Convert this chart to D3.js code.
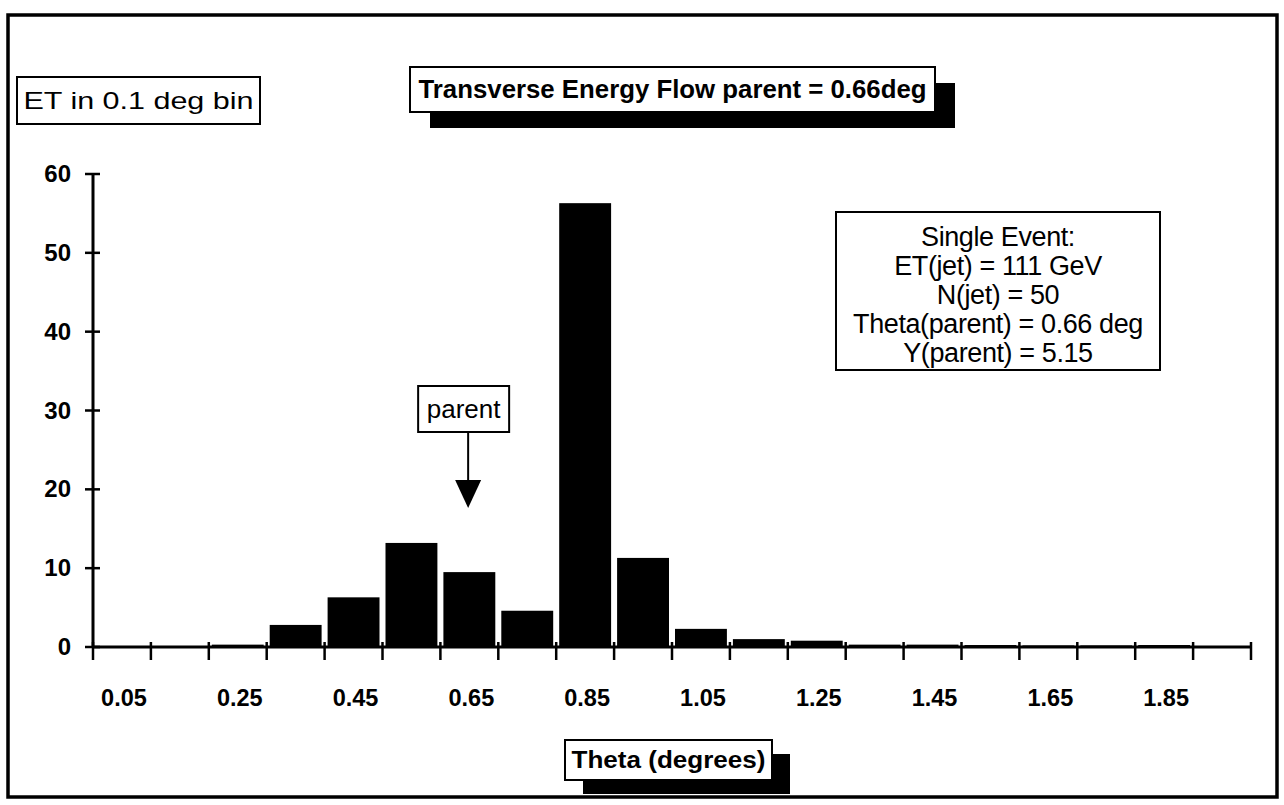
<!DOCTYPE html>
<html>
<head>
<meta charset="utf-8">
<script src="https://cdn.jsdelivr.net/npm/d3@7"></script>
<style>
  html, body { margin: 0; padding: 0; background: #fff; }
  svg { display: block; font-family: "Liberation Sans", Arial, Helvetica, sans-serif; }
</style>
</head>
<body>
<svg id="chart" width="1284" height="805"></svg>
<script>
// Transverse energy per 0.1-degree theta bin, single event
const binCenters = [0.05, 0.15, 0.25, 0.35, 0.45, 0.55, 0.65, 0.75, 0.85, 0.95,
                    1.05, 1.15, 1.25, 1.35, 1.45, 1.55, 1.65, 1.75, 1.85, 1.95];
const etValues   = [0, 0, 0.3, 2.8, 6.3, 13.2, 9.5, 4.6, 56.3, 11.3,
                    2.3, 1.0, 0.8, 0.3, 0.3, 0.25, 0.2, 0.2, 0.25, 0.1];
const xTickLabels = [0.05, 0.25, 0.45, 0.65, 0.85, 1.05, 1.25, 1.45, 1.65, 1.85];
const yTicks = [0, 10, 20, 30, 40, 50, 60];
const binEdges = d3.range(0, 21).map(i => i / 10);
const binWidth = 0.1;

const titleText = "Transverse Energy Flow parent = 0.66deg";
const yTitleText = "ET in 0.1 deg bin";
const xTitleText = "Theta (degrees)";
const parentTheta = 0.66;
const infoLines = ["Single Event:", "ET(jet) = 111 GeV", "N(jet) = 50",
                   "Theta(parent) = 0.66 deg", "Y(parent) = 5.15"];

const svg = d3.select("#chart");

const x = d3.scaleLinear().domain([0, 2.0]).range([93, 1251]);
const y = d3.scaleLinear().domain([0, 60]).range([647, 174]);

// outer frame
svg.append("rect")
  .attr("x", 8).attr("y", 15).attr("width", 1269).attr("height", 782)
  .attr("fill", "none").attr("stroke", "#000").attr("stroke-width", 3.5);

// bars
const gap = 3;
svg.append("g").selectAll("rect")
  .data(binCenters.map((c, i) => ({ c, v: etValues[i] })))
  .join("rect")
  .attr("x", d => x(d.c - binWidth / 2) + gap)
  .attr("width", d => x(d.c + binWidth / 2) - x(d.c - binWidth / 2) - 2 * gap)
  .attr("y", d => y(d.v))
  .attr("height", d => y(0) - y(d.v))
  .attr("fill", "#000");

// x axis: line, ticks at bin edges, labels at every other bin centre
const xAxisG = svg.append("g").attr("transform", `translate(0,${y(0)})`);
xAxisG.append("line")
  .attr("x1", x(0)).attr("x2", x(2.0))
  .attr("stroke", "#000").attr("stroke-width", 3);
xAxisG.selectAll("line.tick")
  .data(binEdges)
  .join("line")
  .attr("class", "tick")
  .attr("x1", d => x(d)).attr("x2", d => x(d))
  .attr("y1", -5).attr("y2", 13)
  .attr("stroke", "#000").attr("stroke-width", 2.5);
xAxisG.selectAll("text")
  .data(xTickLabels)
  .join("text")
  .attr("x", d => x(d) + 2)
  .attr("y", 59)
  .attr("text-anchor", "middle")
  .attr("font-size", 23.5)
  .attr("font-weight", "bold")
  .text(d => d3.format(".2f")(d));

// y axis
const yAxisG = svg.append("g").attr("transform", `translate(${x(0)},0)`);
yAxisG.append("line")
  .attr("y1", y(0)).attr("y2", y(60))
  .attr("stroke", "#000").attr("stroke-width", 3);
yAxisG.selectAll("line.tick")
  .data(yTicks)
  .join("line")
  .attr("class", "tick")
  .attr("x1", -8).attr("x2", 7)
  .attr("y1", d => y(d)).attr("y2", d => y(d))
  .attr("stroke", "#000").attr("stroke-width", 2.5);
yAxisG.selectAll("text")
  .data(yTicks)
  .join("text")
  .attr("x", -22)
  .attr("y", d => y(d) + 8)
  .attr("text-anchor", "end")
  .attr("font-size", 24)
  .attr("font-weight", "bold")
  .text(d => d);

// boxed label helper, optional drop shadow
function boxLabel(bx, by, bw, bh, lines, opts) {
  const g = svg.append("g");
  if (opts.shadow) {
    g.append("rect")
      .attr("x", bx + opts.shadow[0]).attr("y", by + opts.shadow[1])
      .attr("width", bw).attr("height", bh).attr("fill", "#000");
  }
  g.append("rect")
    .attr("x", bx).attr("y", by).attr("width", bw).attr("height", bh)
    .attr("fill", "#fff").attr("stroke", "#000").attr("stroke-width", 2);
  lines.forEach((t, i) => {
    const tx = g.append("text")
      .attr("x", bx + bw / 2)
      .attr("y", by + opts.firstBaseline + i * (opts.lineStep || 0))
      .attr("text-anchor", "middle")
      .attr("font-size", opts.size)
      .attr("font-weight", opts.bold ? "bold" : "normal")
      .attr("letter-spacing", opts.spacing || 0)
      .text(t);
    if (opts.fitWidth) {
      tx.attr("textLength", opts.fitWidth).attr("lengthAdjust", "spacingAndGlyphs");
    }
  });
  return g;
}

// chart title with shadow
boxLabel(410, 67, 525, 45, [titleText],
  { shadow: [20, 16], size: 25, bold: true, firstBaseline: 31, fitWidth: 508 });

// y axis title
boxLabel(17, 77, 243, 47, [yTitleText],
  { size: 24, firstBaseline: 32, fitWidth: 230 });

// x axis title with shadow
boxLabel(565, 740, 207, 40, [xTitleText],
  { shadow: [18, 14], size: 23, bold: true, firstBaseline: 28, fitWidth: 194 });

// event summary
boxLabel(836, 212, 324, 158, infoLines,
  { size: 27, firstBaseline: 34, lineStep: 29, spacing: -0.4 });

// parent marker with arrow
const px = x(parentTheta);
boxLabel(px - 57, 386, 91, 46, ["parent"], { size: 26, firstBaseline: 32 });
svg.append("line")
  .attr("x1", px - 7).attr("x2", px - 7).attr("y1", 432).attr("y2", 482)
  .attr("stroke", "#000").attr("stroke-width", 2);
svg.append("path")
  .attr("d", `M${px - 20},480 L${px + 6},480 L${px - 7},508 Z`)
  .attr("fill", "#000");
</script>
</body>
</html>
